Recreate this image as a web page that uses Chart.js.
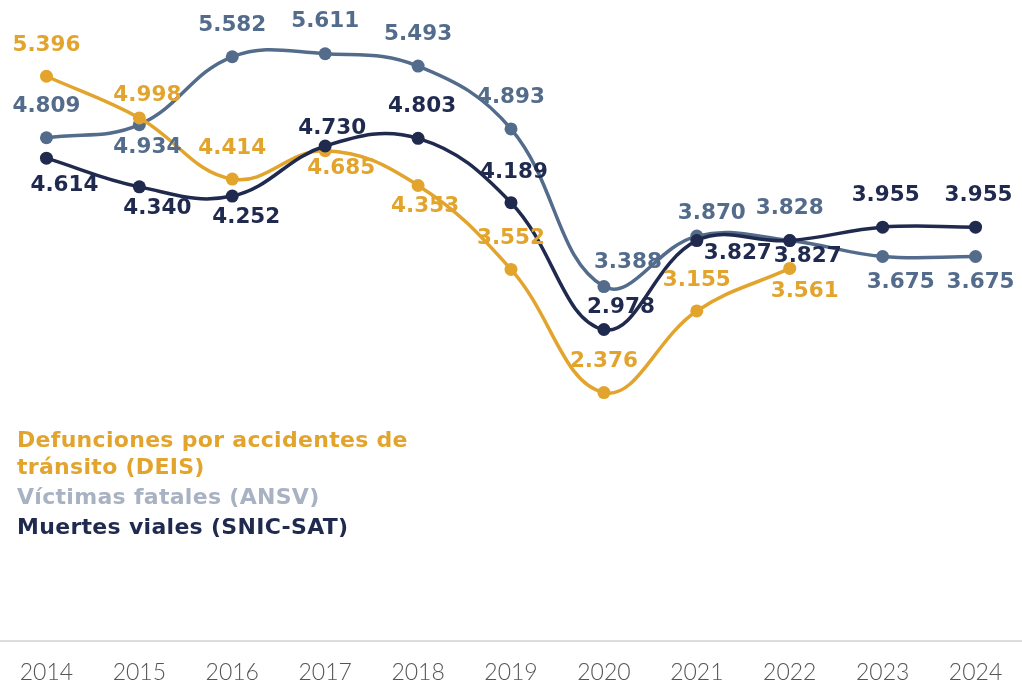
<!DOCTYPE html>
<html>
<head>
<meta charset="utf-8">
<script src="https://cdn.jsdelivr.net/npm/chart.js"></script>
<style>
body{margin:0;background:#fff;}
#wrap{position:relative;width:1022px;height:686px;}
#legend{position:absolute;left:17px;top:426px;width:420px;font-family:"DejaVu Sans",sans-serif;font-weight:bold;font-size:22px;letter-spacing:0.3px;line-height:27px;}
#legend div+div{padding-top:3px;}
</style>
</head>
<body>
<div id="wrap">
<canvas id="chart"></canvas>
<div id="legend">
<div style="color:#e2a42c">Defunciones por accidentes de tránsito (DEIS)</div>
<div style="color:#a8b2c2">Víctimas fatales (ANSV)</div>
<div style="color:#1f2a4e">Muertes viales (SNIC-SAT)</div>
</div>
</div>
<script>
const years=["2014","2015","2016","2017","2018","2019","2020","2021","2022","2023","2024"];
const deis=[5396,4998,4414,4685,4353,3552,2376,3155,3561,null,null];
const ansv=[4809,4934,5582,5611,5493,4893,3388,3870,3828,3675,3675];
const snic=[4614,4340,4252,4730,4803,4189,2978,3827,3827,3955,3955];

// value label nudges from each point, [dx, dy] in px
const deisOff=[[0,-31],[8,-23],[0,-31],[16,18],[7,21],[0,-31],[0,-31],[0,-31],[15,23],null,null];
const ansvOff=[[0,-31],[8,23],[0,-31],[0,-32],[0,-32],[0,-32],[24,-24],[15,-23],[0,-32],[18,26],[5,26]];
const snicOff=[[18,27],[18,22],[14,21],[7,-18],[4,-32],[3,-30],[17,-22],[41,13],[18,16],[3,-32],[3,-32]];

const fmt=v=>v.toLocaleString("de-DE");

const valueLabels={
id:"valueLabels",
afterDatasetsDraw(chart){
const ctx=chart.ctx;
ctx.save();
ctx.font="bold 21.5px 'DejaVu Sans'";
ctx.textAlign="center";
ctx.textBaseline="middle";
chart.data.datasets.forEach((ds,i)=>{
const meta=chart.getDatasetMeta(i);
meta.data.forEach((pt,j)=>{
const v=ds.data[j];
if(v==null)return;
const off=ds.labelOff[j];
ctx.fillStyle=ds.labelColor;
ctx.fillText(fmt(v),pt.x+off[0],pt.y+off[1]);
});
});
ctx.restore();
}
};

new Chart(document.getElementById("chart"),{
type:"line",
data:{
labels:years,
datasets:[
{label:"Defunciones por accidentes de tránsito (DEIS)",data:deis,borderColor:"#e2a42c",backgroundColor:"#e2a42c",labelColor:"#e2a42c",labelOff:deisOff,order:2},
{label:"Víctimas fatales (ANSV)",data:ansv,borderColor:"#546c8b",backgroundColor:"#546c8b",labelColor:"#546c8b",labelOff:ansvOff,order:3},
{label:"Muertes viales (SNIC-SAT)",data:snic,borderColor:"#1f2a4e",backgroundColor:"#1f2a4e",labelColor:"#1f2a4e",labelOff:snicOff,order:1}
]
},
options:{
responsive:true,
maintainAspectRatio:false,
animation:false,
layout:{autoPadding:false,padding:{top:13,bottom:-17,left:0,right:0}},
elements:{
line:{tension:0.4,borderWidth:3.5},
point:{radius:6.5,hoverRadius:6.5,borderWidth:0}
},
plugins:{legend:{display:false},tooltip:{enabled:false}},
scales:{
x:{
offset:true,
grid:{display:false,drawTicks:false},
border:{color:"#dddddd",width:2},
ticks:{color:"#555555",padding:17,font:{family:"Lato",weight:300,size:23}}
},
y:{display:false,min:0,max:6000}
}
},
plugins:[valueLabels]
});
</script>
</body>
</html>
